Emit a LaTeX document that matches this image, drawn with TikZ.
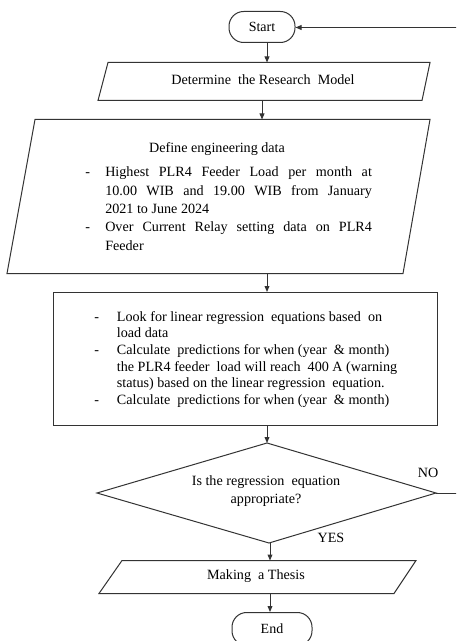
\documentclass[tikz,border=0pt]{standalone}
\usepackage{fontspec}
\setmainfont{Liberation Serif}
\usetikzlibrary{arrows.meta,calc}
\begin{document}
\begin{tikzpicture}[x=0.75pt,y=-0.75pt,
  shapeline/.style={draw=black!80, line width=0.75pt},
  arr/.style={draw=black!80, line width=0.75pt, -{Triangle[length=4.5pt,width=3.6pt]}},
  term/.style={shapeline, rounded corners=11pt, inner sep=0pt, font=\fontsize{10.5}{12.5}\selectfont},
  txt/.style={inner sep=0pt, font=\fontsize{10.6}{13}\selectfont},
  listA/.style={inner sep=0pt, anchor=base west, font=\fontsize{10.6}{13.7}\selectfont},
  listB/.style={inner sep=0pt, anchor=base west, font=\fontsize{10.6}{12.5}\selectfont}]
\clip (0,0) rectangle (456,641);
\fill[white] (0,0) rectangle (456,641);

% Start
\node[term, minimum width=49.5pt, minimum height=23.25pt] (start) at (262,27) {Start};

% Determine the research model
\draw[shapeline] (108,62.5) -- (430,62.5) -- (422,100.5) -- (98,100.5) -- cycle;
\coordinate (modelN) at (267,62.5);
\coordinate (modelS) at (262,100.5);
\node[txt] (model) at (263,80) {Determine~ the Research~ Model};

% Define engineering data
\draw[shapeline] (35,119.5) -- (430,119.5) -- (403,273.5) -- (7,273.5) -- cycle;
\coordinate (dataN) at (262,119.5);
\coordinate (dataS) at (267,273.5);
\node[txt, anchor=base] (datahead) at (217,153) {Define engineering data};
\node[listA] (datalist) at (85,177) {\begin{tabular}[t]{@{}p{15pt}@{}p{200pt}@{}}
-&\makebox[200pt][s]{Highest PLR4 Feeder Load per month at}\\
&\makebox[200pt][s]{10.00 WIB and 19.00 WIB from January}\\
&2021 to June 2024\\
-&\makebox[200pt][s]{Over Current Relay setting data on PLR4}\\
&Feeder
\end{tabular}};

% Calculation box
\node[shapeline, minimum width=288pt, minimum height=99.75pt] (calc) at (245.5,359) {};
\node[listB] (calclist) at (94,321) {\begin{tabular}[t]{@{}p{17pt}@{}p{220pt}@{}}
-&Look for linear regression~ equations based~ on\\
&load data\\
-&Calculate~ predictions for when (year~ \& month)\\
&the PLR4 feeder~ load will reach~ 400 A (warning\\
&status) based on the linear regression~ equation.\\
-&Calculate~ predictions for when (year~ \& month)
\end{tabular}};

% Decision
\draw[shapeline] (267,443) coordinate (checkT) -- (436,493) coordinate (checkR)
  -- (269,543) coordinate (checkB) -- (97,493) coordinate (checkL) -- cycle;
\node[txt, align=center, font=\fontsize{10.6}{13.5}\selectfont] (check) at (266,491) {Is the regression~ equation\\appropriate?};
\node[txt] (no) at (428,473) {NO};
\node[txt] (yes) at (331,538) {YES};

% Making a thesis
\draw[shapeline] (122,560.5) -- (416,560.5) -- (394,593.5) -- (99,593.5) -- cycle;
\coordinate (thesisN) at (270,560.5);
\coordinate (thesisS) at (270,593.5);
\node[txt] (thesis) at (256,576) {Making~ a Thesis};

% End
\node[term, minimum width=60pt, minimum height=24.75pt] (end) at (272,629) {End};

% Connectors
\draw[arr] (start.south -| modelN) -- (modelN);
\draw[arr] (modelS) -- (dataN);
\draw[arr] (dataS) -- (calc.north -| dataS);
\draw[arr] (calc.south -| checkT) -- (checkT);
\draw[arr] (checkB -| thesisN) -- (thesisN);
\draw[arr] (thesisS) -- (end.north -| thesisS);
\coordinate (fbtop) at (476,27.5);
\draw[arr] (checkR) -| (fbtop) -- (start.east |- fbtop);
\end{tikzpicture}
\end{document}
